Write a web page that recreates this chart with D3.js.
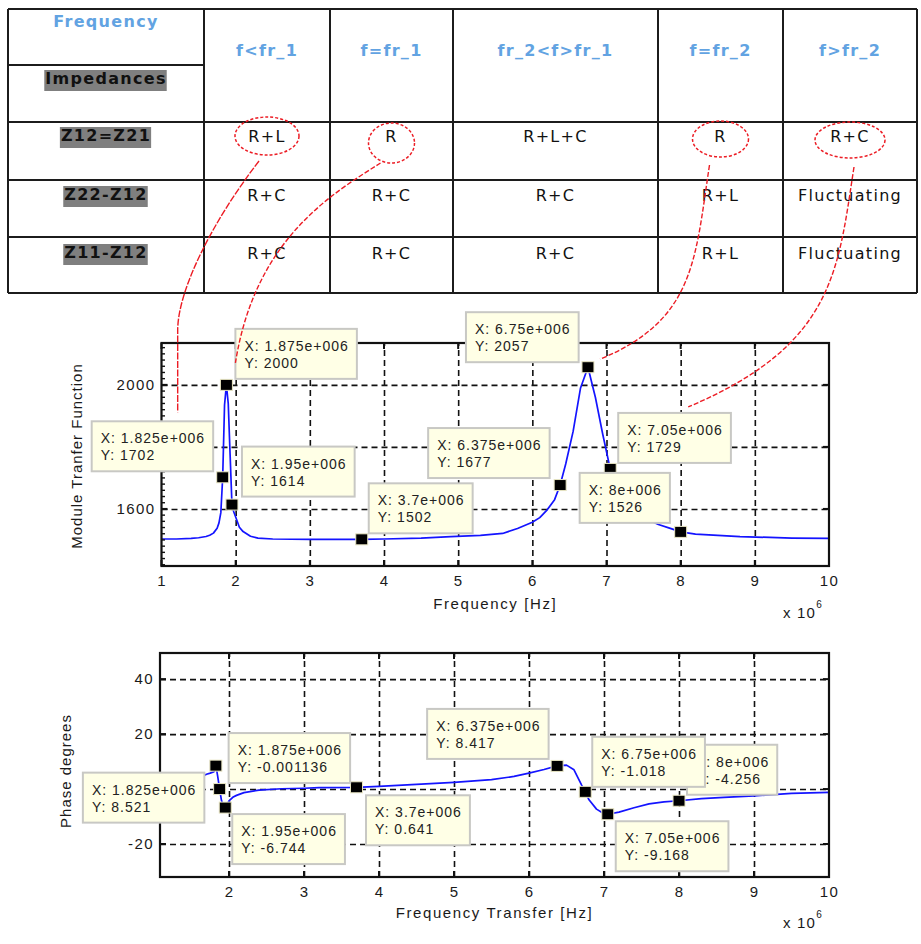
<!DOCTYPE html>
<html>
<head>
<meta charset="utf-8">
<script src="https://cdn.jsdelivr.net/npm/d3@7"></script>
<style>
  body { margin: 0; background: #fff; }
  svg { display: block; }
</style>
</head>
<body>
<svg id="fig" width="921" height="944"></svg>
<script>
// ---------- table content ----------
const freqBands = ["f<fr_1", "f=fr_1", "fr_2<f>fr_1", "f=fr_2", "f>fr_2"];
const impedanceRows = ["Z12=Z21", "Z22-Z12", "Z11-Z12"];
const cellText = [
  ["R+L", "R", "R+L+C", "R", "R+C"],
  ["R+C", "R+C", "R+C", "R+L", "Fluctuating"],
  ["R+C", "R+C", "R+C", "R+L", "Fluctuating"]
];
// columns of the Z12=Z21 row that are circled, and the data cursor each one points to
const circledBands = [0, 1, 3, 4];
const circledTip = [0, 1, 5, 6];

// ---------- transfer function modulus (frequency in MHz) ----------
const magFreq = [1, 1.2, 1.4, 1.5, 1.6, 1.65, 1.7, 1.75, 1.775, 1.8,
  1.825, 1.85, 1.875, 1.9, 1.925, 1.95, 1.975, 2, 2.05, 2.1,
  2.2, 2.3, 2.5, 3, 3.5, 3.7, 4, 4.5, 4.9, 5.3,
  5.6, 5.8, 6, 6.1, 6.2, 6.3, 6.375, 6.45, 6.55, 6.65,
  6.75, 6.85, 6.95, 7.05, 7.15, 7.3, 7.5, 7.7, 7.85, 8,
  8.2, 8.5, 8.8, 9.2, 9.5, 10];
const magValue = [1503, 1503, 1505, 1507, 1511, 1515, 1522, 1538, 1555, 1588,
  1702, 1935, 2000, 1940, 1775, 1614, 1590, 1574, 1541, 1527,
  1512, 1506, 1503, 1502, 1502, 1502, 1503, 1506, 1511, 1515,
  1521, 1537, 1557, 1572, 1597, 1630, 1677, 1745, 1850, 1990,
  2057, 1960, 1840, 1729, 1660, 1608, 1572, 1550, 1538, 1526,
  1519, 1515, 1511, 1508, 1506, 1505];

// ---------- transfer phase (degrees) ----------
const phaseFreq = [1.08, 1.3, 1.5, 1.6, 1.7, 1.75, 1.8, 1.825, 1.85, 1.875,
  1.9, 1.925, 1.95, 2, 2.05, 2.1, 2.2, 2.4, 2.7, 3,
  3.2, 3.7, 4, 4.5, 5, 5.5, 5.8, 6, 6.2, 6.375,
  6.5, 6.6, 6.7, 6.75, 6.8, 6.9, 7, 7.05, 7.2, 7.4,
  7.6, 7.8, 8, 8.3, 8.6, 9, 9.5, 10];
const phaseValue = [2.0, 2.6, 3.3, 4.0, 5.4, 5.8, 6.3, 8.521, 4.5, -0.001136,
  -4.2, -6.2, -6.744, -4.3, -3.0, -2.3, -1.3, -0.4, 0.1, 0.3,
  0.55, 0.641, 1.0, 1.7, 2.4, 3.4, 4.6, 5.8, 7.1, 8.417,
  8.7, 7.0, 1.5, -1.018, -3.9, -7.3, -9.0, -9.168, -8.4, -6.8,
  -5.4, -4.7, -4.256, -3.5, -3.0, -2.5, -1.6, -1.2];

// ---------- data cursors ----------
const tipFreq = [1.825, 1.875, 1.95, 3.7, 6.375, 6.75, 7.05, 8];
const tipMag = [1702, 2000, 1614, 1502, 1677, 2057, 1729, 1526];
const tipPhase = [8.521, -0.001136, -6.744, 0.641, 8.417, -1.018, -9.168, -4.256];

// ---------- ticks (grid lines) and the tick values that carry a visible label ----------
const magTicksX = [1, 2, 3, 4, 5, 6, 7, 8, 9, 10];
const magTicksY = [1600, 1800, 2000];
const magLabelsY = [1600, 2000];
const phaseTicksX = [2, 3, 4, 5, 6, 7, 8, 9, 10];
const phaseTicksY = [-20, 0, 20, 40];
const phaseLabelsY = [-20, 20, 40];

const svg = d3.select("#fig");
const defs = svg.append("defs");
const TABLE_FONT = "'DejaVu Sans', Verdana, sans-serif";
const PLOT_FONT = "'Liberation Sans', Arial, sans-serif";
const BLUE_HEAD = "#62a3e2";
const INK = "#1a1a1a";

// ================= table =================
const colX = [8, 204, 330, 453, 658, 783, 917];
const rowY = [9, 122, 180, 237, 293];
const headSplitY = 65;
const rowBase = [141, 200, 258];
const colMid = i => (colX[i] + colX[i + 1]) / 2;

const tbl = svg.append("g");
const rule = (x1, y1, x2, y2) => tbl.append("line")
  .attr("x1", x1).attr("y1", y1).attr("x2", x2).attr("y2", y2)
  .attr("stroke", "#1c1c1c").attr("stroke-width", 2);
colX.forEach(x => rule(x, rowY[0], x, rowY[rowY.length - 1]));
rowY.forEach(y => rule(colX[0], y, colX[colX.length - 1], y));
rule(colX[0], headSplitY, colX[1], headSplitY);

function tableText(x, y, s, bold, color) {
  return tbl.append("text")
    .attr("x", x).attr("y", y)
    .attr("text-anchor", "middle")
    .attr("font-family", TABLE_FONT)
    .attr("font-size", 16)
    .attr("font-weight", bold ? "bold" : "normal")
    .attr("letter-spacing", 1.3)
    .attr("fill", color)
    .text(s);
}
function shade(t) {
  const b = t.node().getBBox();
  tbl.insert("rect", () => t.node())
    .attr("x", b.x - 1).attr("y", b.y + 1)
    .attr("width", b.width + 1).attr("height", b.height + 2)
    .attr("fill", "#7f7f7f");
}

tableText(colMid(0), 27, "Frequency", true, BLUE_HEAD);
shade(tableText(colMid(0), 84, "Impedances", true, "#111"));
freqBands.forEach((s, i) => tableText(colMid(i + 1), 56, s, true, BLUE_HEAD));
impedanceRows.forEach((s, r) => shade(tableText(colMid(0), rowBase[r], s, true, "#111")));
cellText.forEach((row, r) => row.forEach((s, c) =>
  tableText(colMid(c + 1), rowBase[r] + 1, s, false, "#111")));

// ================= plots =================
function drawPanel(p) {
  const g = svg.append("g");
  const x = d3.scaleLinear().domain(p.xDomain).range([p.left, p.right]);
  const y = d3.scaleLinear().domain(p.yDomain).range([p.bottom, p.top]);
  const w = p.right - p.left, h = p.bottom - p.top;

  defs.append("clipPath").attr("id", p.id + "-clip")
    .append("rect").attr("x", p.left).attr("y", p.top).attr("width", w).attr("height", h);

  // dashed grid + tick labels from d3 axes
  const xAxis = g.append("g").attr("transform", `translate(0,${p.bottom})`)
    .call(d3.axisBottom(x).tickValues(p.xTicks).tickSize(-h).tickPadding(9.5)
      .tickFormat(d => String(d)));
  const yAxis = g.append("g").attr("transform", `translate(${p.left},0)`)
    .call(d3.axisLeft(y).tickValues(p.yTicks).tickSize(-w).tickPadding(6)
      .tickFormat(d => p.yLabels.includes(d) ? String(d) : ""));
  [xAxis, yAxis].forEach(a => {
    a.select(".domain").remove();
    a.selectAll(".tick line")
      .attr("stroke", "#111").attr("stroke-width", 1.6).attr("stroke-dasharray", "6,4");
    a.selectAll(".tick text")
      .attr("font-family", PLOT_FONT).attr("font-size", 15)
      .attr("letter-spacing", 1.4).attr("fill", INK);
  });
  xAxis.selectAll(".tick").filter(v => v === p.xDomain[0] || v === p.xDomain[1])
    .select("line").remove();

  // curve
  const pts = p.freq.map((f, i) => [f, p.vals[i]]);
  g.append("path")
    .attr("clip-path", `url(#${p.id}-clip)`)
    .attr("d", d3.line().x(d => x(d[0])).y(d => y(d[1]))(pts))
    .attr("fill", "none").attr("stroke", "#1414ff").attr("stroke-width", 1.7)
    .attr("stroke-linejoin", "round");

  // frame and inner ticks
  g.append("rect").attr("x", p.left).attr("y", p.top).attr("width", w).attr("height", h)
    .attr("fill", "none").attr("stroke", "#111").attr("stroke-width", 2.2);
  const tk = g.append("g").attr("stroke", "#111").attr("stroke-width", 2);
  p.xTicks.forEach(v => {
    tk.append("line").attr("x1", x(v)).attr("x2", x(v)).attr("y1", p.bottom).attr("y2", p.bottom - 6);
    tk.append("line").attr("x1", x(v)).attr("x2", x(v)).attr("y1", p.top).attr("y2", p.top + 6);
  });
  p.yTicks.forEach(v => {
    tk.append("line").attr("x1", p.left).attr("x2", p.left + 6).attr("y1", y(v)).attr("y2", y(v));
    tk.append("line").attr("x1", p.right).attr("x2", p.right - 6).attr("y1", y(v)).attr("y2", y(v));
  });
  if (p.minorStep) {
    d3.range(Math.ceil(p.yDomain[0] / p.minorStep) * p.minorStep, p.yDomain[1], p.minorStep)
      .forEach(v => tk.append("line").attr("stroke-width", 1.4)
        .attr("x1", p.left).attr("x2", p.left + 3.5).attr("y1", y(v)).attr("y2", y(v)));
  }

  // axis titles
  g.append("text").attr("x", (p.left + p.right) / 2).attr("y", p.xTitleY)
    .attr("text-anchor", "middle").attr("font-family", PLOT_FONT).attr("font-size", 15)
    .attr("letter-spacing", 1.6).attr("fill", INK).text(p.xTitle);
  g.append("text").attr("transform", `translate(${p.yTitleX},${p.yTitleMid}) rotate(-90)`)
    .attr("text-anchor", "middle").attr("font-family", PLOT_FONT).attr("font-size", 15)
    .attr("letter-spacing", 1).attr("fill", INK).text(p.yTitle);
  const ex = g.append("text").attr("x", p.right - 46).attr("y", p.expY)
    .attr("font-family", PLOT_FONT).attr("font-size", 15).attr("fill", INK);
  ex.append("tspan").attr("letter-spacing", 1.2).text("x 10");
  ex.append("tspan").attr("font-size", 10).attr("dy", -10).text("6");

  // data cursor markers
  const mk = tipFreq.map((f, i) => [x(f), y(p.tipVals[i])]);
  g.selectAll(".mk").data(mk).join("rect")
    .attr("x", d => d[0] - 6).attr("y", d => d[1] - 5.5)
    .attr("width", 12).attr("height", 11)
    .attr("fill", "#000").attr("stroke", "#e9e6c4").attr("stroke-width", 1);

  // data cursor boxes
  p.tipOrder.forEach(i => {
    const bx = mk[i][0] + p.tipOffset[i][0], by = mk[i][1] + p.tipOffset[i][1];
    const tg = g.append("g");
    const box = tg.append("rect").attr("x", bx).attr("y", by).attr("height", 50)
      .attr("fill", "#ffffe6").attr("stroke", "#c8c8c4").attr("stroke-width", 2);
    const lines = ["X: " + tipFreq[i] + "e+006", "Y: " + p.tipVals[i]];
    let maxW = 0;
    lines.forEach((s, k) => {
      const t = tg.append("text").attr("x", bx + 9).attr("y", by + 22 + k * 17)
        .attr("font-family", PLOT_FONT).attr("font-size", 14)
        .attr("letter-spacing", 1).attr("fill", "#222").text(s);
      maxW = Math.max(maxW, t.node().getComputedTextLength());
    });
    box.attr("width", maxW + 17);
  });
  return { x, y, mk };
}

const mag = drawPanel({
  id: "mag", left: 161.5, right: 829, top: 343, bottom: 566,
  xDomain: [1, 10], yDomain: [1416, 2135],
  xTicks: magTicksX, yTicks: magTicksY, yLabels: magLabelsY, minorStep: 20,
  freq: magFreq, vals: magValue, tipVals: tipMag,
  tipOffset: [[-131, -56], [9, -56], [10, -58], [7, -56], [-132, -57], [-122, -55], [8, -56], [-101, -59]],
  tipOrder: [0, 1, 2, 3, 4, 5, 6, 7],
  xTitle: "Frequency [Hz]", xTitleY: 609,
  yTitle: "Module Tranfer Function", yTitleX: 82, yTitleMid: 456,
  expY: 618
});

drawPanel({
  id: "phase", left: 160, right: 829, top: 653, bottom: 877,
  xDomain: [1.08, 10], yDomain: [-32, 49.5],
  xTicks: phaseTicksX, yTicks: phaseTicksY, yLabels: phaseLabelsY, minorStep: 0,
  freq: phaseFreq, vals: phaseValue, tipVals: tipPhase,
  tipOffset: [[-133, 7], [9, -56], [7, 6.5], [9.5, 8], [-130, -57], [7, -55], [8, 7], [8, -56]],
  tipOrder: [0, 1, 2, 3, 4, 7, 5, 6],
  xTitle: "Frequency Transfer [Hz]", xTitleY: 918,
  yTitle: "Phase degrees", yTitleX: 71, yTitleMid: 771,
  expY: 928
});

// ================= red annotations: circled cells and leader lines =================
const ringSize = [[32, 19], [23, 20], [28, 18], [35, 18]];
const ringDy = [-2, 5, 1, 2];
const leaderStart = [[-8, 25], [-11, 20], [-11, 26], [4, 27]];
const leaderEnd = [[-45, -65], [9, -22], [12, -8], [78, -62]];
const leaderCtrl = [
  [[212, 222], [178, 290]],
  [[330, 195], [255, 240]],
  [[695, 260], [695, 320]],
  [[838, 270], [835, 345]]
];
const ann = svg.append("g").attr("fill", "none").attr("stroke", "#ec1c24");
circledBands.forEach((c, k) => {
  const cx = colMid(c + 1), cy = 138 + ringDy[k];
  ann.append("ellipse").attr("cx", cx).attr("cy", cy)
    .attr("rx", ringSize[k][0]).attr("ry", ringSize[k][1])
    .attr("stroke-width", 1.5).attr("stroke-dasharray", "3,2");
  const s = [cx + leaderStart[k][0], cy + leaderStart[k][1]];
  const m = mag.mk[circledTip[k]];
  const e = [m[0] + leaderEnd[k][0], m[1] + leaderEnd[k][1]];
  const pth = d3.path();
  pth.moveTo(s[0], s[1]);
  if (k === 0) {
    pth.bezierCurveTo(leaderCtrl[k][0][0], leaderCtrl[k][0][1], leaderCtrl[k][1][0], leaderCtrl[k][1][1], e[0], 330);
    pth.lineTo(e[0], e[1]);
  } else {
    pth.bezierCurveTo(leaderCtrl[k][0][0], leaderCtrl[k][0][1], leaderCtrl[k][1][0], leaderCtrl[k][1][1], e[0], e[1]);
  }
  ann.append("path").attr("d", pth.toString())
    .attr("stroke-width", 1.4).attr("stroke-dasharray", k === 0 ? "7,1.5" : "5,2");
});
</script>
</body>
</html>
